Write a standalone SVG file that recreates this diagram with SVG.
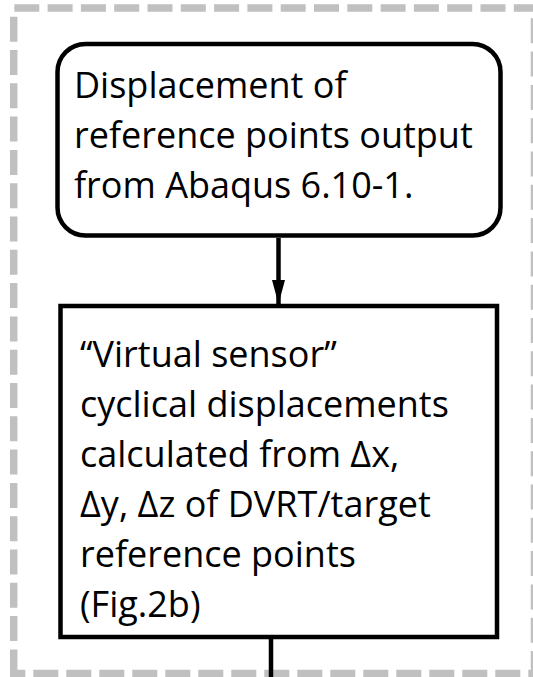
<svg xmlns="http://www.w3.org/2000/svg" width="533" height="677" viewBox="0 0 533 677">
<style>
.frame{fill:none;stroke:#c0c0c0;stroke-width:7.5;stroke-dasharray:25 8.3}
.box{fill:#ffffff;stroke:#000000;stroke-width:4.5}
.conn{fill:none;stroke:#000000;stroke-width:4.5}
.label{font-family:"Open Sans","Noto Sans",sans-serif;font-size:36px;fill:#000000}
</style>
<defs>
<marker id="arrow" markerUnits="userSpaceOnUse" viewBox="0 0 24 13" refX="24" refY="6.5" markerWidth="24" markerHeight="13" orient="auto">
<path d="M0,0 L24,6.5 L0,13 Z" fill="#000000"/>
</marker>
</defs>
<g id="frame">
<line class="frame" x1="14.3" y1="8" x2="533" y2="8"/>
<line class="frame" x1="13.7" y1="16.7" x2="13.7" y2="673.5"/>
<line class="frame" x1="10" y1="673.5" x2="533" y2="673.5" style="stroke-dasharray:25 8;stroke-dashoffset:9.7"/>
<line class="frame" x1="534.5" y1="18.3" x2="534.5" y2="677"/>
</g>
<g id="connectors">
<line class="conn" x1="278.5" y1="238" x2="278.5" y2="304" marker-end="url(#arrow)"/>
<line class="conn" x1="271" y1="639" x2="271" y2="677"/>
</g>
<g id="node-abaqus">
<rect class="box" x="57.5" y="44" width="443" height="191.5" rx="28" ry="28"/>
<text class="label" x="74" y="98">Displacement of</text>
<text class="label" x="74" y="148">reference points output</text>
<text class="label" x="74" y="198">from Abaqus 6.10-1.</text>
</g>
<g id="node-virtual-sensor">
<rect class="box" x="60.5" y="306" width="436.5" height="331"/>
<text class="label" x="80" y="366.7">“Virtual sensor”</text>
<text class="label" x="80" y="416.7">cyclical displacements</text>
<text class="label" x="80" y="466.7">calculated from Δx,</text>
<text class="label" x="80" y="516.7">Δy, Δz of DVRT/target</text>
<text class="label" x="80" y="566.7">reference points</text>
<text class="label" x="80" y="616.7">(Fig.2b)</text>
</g>
</svg>
